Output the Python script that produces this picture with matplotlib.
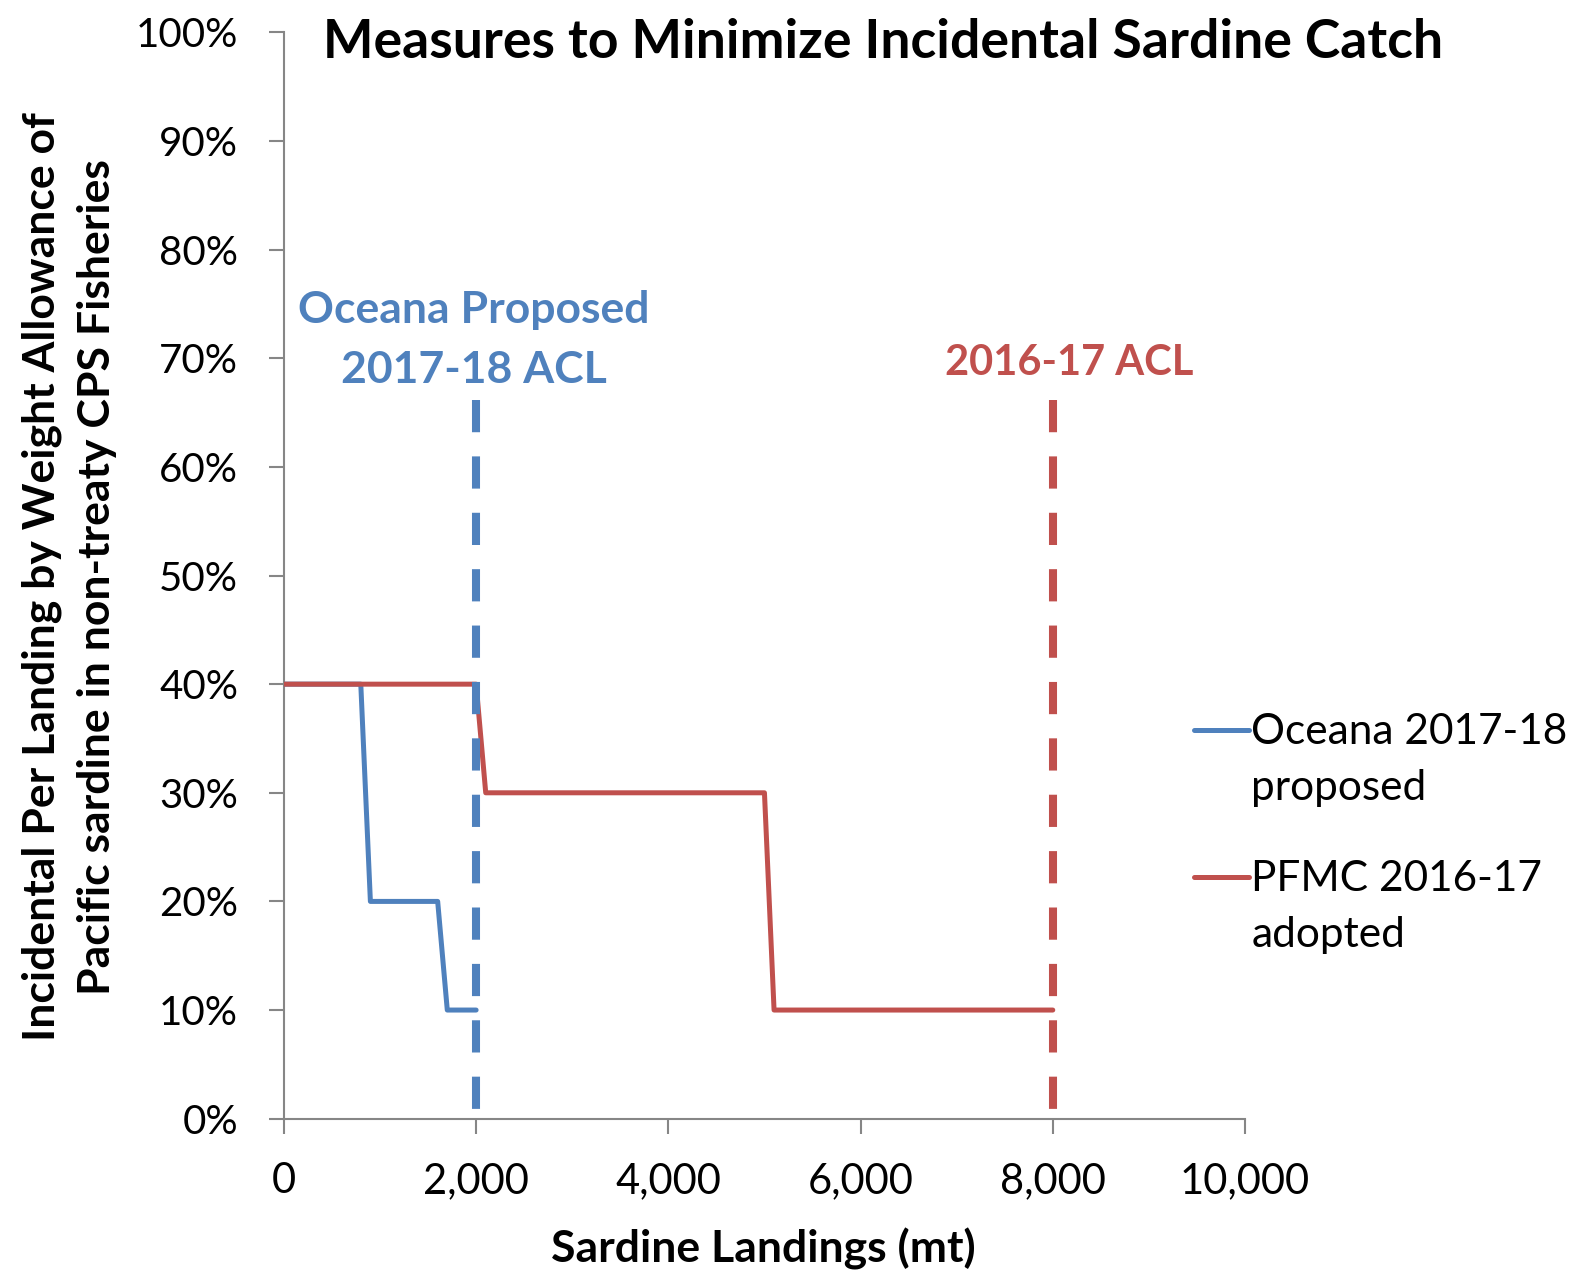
import matplotlib
matplotlib.use("Agg")
import matplotlib.pyplot as plt
from matplotlib.lines import Line2D
from matplotlib.ticker import FuncFormatter, MultipleLocator

plt.rcParams['font.family'] = ['Lato', 'DejaVu Sans']

# Data
oceana_x = [0, 800, 900, 1600, 1700, 2000]
oceana_y = [40, 40, 20, 20, 10, 10]
pfmc_x = [0, 2000, 2100, 5000, 5100, 8000]
pfmc_y = [40, 40, 30, 30, 10, 10]
oceana_acl_x = [2000, 2000]
oceana_acl_y = [66.2, -1.2]
pfmc_acl_x = [8000, 8000]
pfmc_acl_y = [66.2, 0]
series_labels = ['Oceana 2017-18\nproposed', 'PFMC 2016-17\nadopted']

blue = '#4F81BD'
red = '#C0504D'
gray = '#868686'

fig = plt.figure(figsize=(15.86, 12.76), dpi=100)
ax = fig.add_axes([0.179, 0.1233, 0.606, 0.8513])

l1, = ax.plot(oceana_x, oceana_y, color=blue, lw=3.6, solid_joinstyle='round',
              solid_capstyle='round', zorder=2)
l2, = ax.plot(pfmc_x, pfmc_y, color=red, lw=3.6, solid_joinstyle='round',
              solid_capstyle='round', zorder=3)
ax.plot(pfmc_acl_x, pfmc_acl_y, color=red, lw=5.8, dashes=(4.0, 3.0),
        dash_capstyle='butt', zorder=4, clip_on=False)
ax.plot(oceana_acl_x, oceana_acl_y, color=blue, lw=5.8, dashes=(4.0, 3.0),
        dash_capstyle='butt', zorder=4, clip_on=False)

ax.set_xlim(0, 10000)
ax.set_ylim(0, 100)
ax.xaxis.set_major_locator(MultipleLocator(2000))
ax.yaxis.set_major_locator(MultipleLocator(10))
ax.xaxis.set_major_formatter(FuncFormatter(lambda v, p: f"{int(v):,}"))
ax.yaxis.set_major_formatter(FuncFormatter(lambda v, p: f"{int(v)}%"))

for s in ['top', 'right']:
    ax.spines[s].set_visible(False)
for s in ['left', 'bottom']:
    ax.spines[s].set_color(gray)
    ax.spines[s].set_linewidth(1.5)
    ax.spines[s].set_zorder(1)
ax.tick_params(axis='both', colors=gray, width=1.5, length=11, labelcolor='black')
ax.tick_params(axis='x', pad=20, labelsize=30)
ax.tick_params(axis='y', pad=22, labelsize=29)

fig.text(0.4815, 0.0211, 'Sardine Landings (mt)', ha='center', va='center',
         fontsize=32, fontweight='bold')
fig.text(0.0437, 0.548, 'Incidental Per Landing by Weight Allowance of\nPacific sardine in non-treaty CPS Fisheries',
         ha='center', va='center', rotation=90, fontsize=32, fontweight='bold', linespacing=1.45)

fig.text(0.557, 0.9667, 'Measures to Minimize Incidental Sardine Catch', ha='center', va='center',
         fontsize=38.5, fontweight='bold')

ax.text(1980, 71.65, 'Oceana Proposed\n2017-18 ACL', ha='center', va='center', color=blue,
        fontsize=32, fontweight='bold', linespacing=1.6)
ax.text(8170, 69.6, '2016-17 ACL', ha='center', va='center', color=red,
        fontsize=30, fontweight='bold')

# Legend (handle aligned with first text line, as in the original)
leg_handles = [(l1, 0.4279, 0.4046), (l2, 0.3130, 0.2893)]
for (h, yh, yt), lab in zip(leg_handles, series_labels):
    fig.add_artist(Line2D([0.7526, 0.7876], [yh, yh], transform=fig.transFigure,
                          color=h.get_color(), lw=3.6, solid_capstyle='round'))
    fig.text(0.789, yt, lab, ha='left', va='center', fontsize=30.5, linespacing=1.58)

fig.savefig('out.png', dpi=100)
